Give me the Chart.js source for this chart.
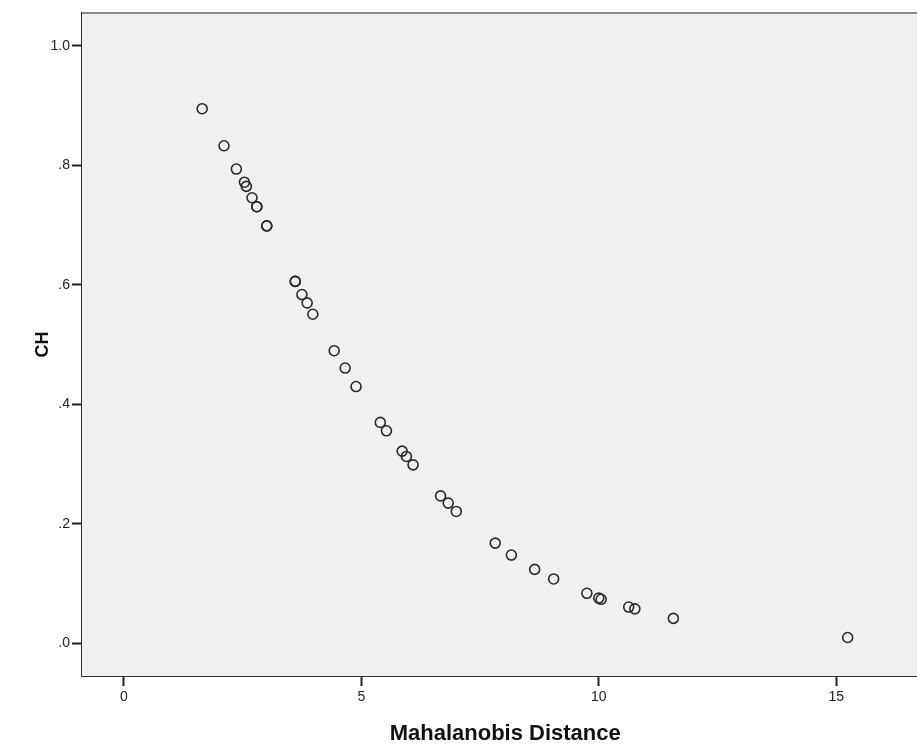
<!DOCTYPE html>
<html>
<head>
<meta charset="utf-8">
<script src="https://cdn.jsdelivr.net/npm/chart.js@4/dist/chart.umd.min.js"></script>
<style>
  html, body { margin: 0; padding: 0; background: #fff; overflow: hidden; }
  #wrap { width: 935px; height: 747px; }
</style>
</head>
<body>
<div id="wrap"><canvas id="canvas" width="935" height="747"></canvas></div>
<script>
// Mahalanobis distance vs CH
var distance = [1.65, 2.11, 2.37, 2.54, 2.58, 2.70, 2.80, 2.80, 3.01, 3.01, 3.61, 3.61, 3.75, 3.86, 3.98,
                4.43, 4.66, 4.89, 5.40, 5.53, 5.86, 5.95, 6.09, 6.67, 6.83, 7.00, 7.82, 8.16, 8.65,
                9.05, 9.75, 10.00, 10.05, 10.63, 10.76, 11.57, 15.24];
var ch = [0.895, 0.833, 0.794, 0.772, 0.765, 0.746, 0.731, 0.731, 0.699, 0.699, 0.606, 0.606, 0.584, 0.570, 0.551,
          0.490, 0.461, 0.430, 0.370, 0.356, 0.322, 0.313, 0.299, 0.247, 0.235, 0.221, 0.168, 0.148, 0.124,
          0.108, 0.084, 0.076, 0.074, 0.061, 0.058, 0.042, 0.010];

var xTicks = [0, 5, 10, 15];
var yTicks = [0, 0.2, 0.4, 0.6, 0.8, 1.0];
var yTickLabels = ['.0', '.2', '.4', '.6', '.8', '1.0'];

var points = [];
for (let i = 0; i < distance.length; i++) {
  points.push({x: distance[i], y: ch[i]});
}

// grey plot background and the thin top frame line
const plotBox = {
  id: 'plotBox',
  beforeDatasetsDraw(chart) {
    const a = chart.chartArea, c = chart.ctx;
    c.save();
    c.fillStyle = '#f0f0f0';
    c.fillRect(a.left, a.top, a.right - a.left, a.bottom - a.top);
    c.restore();
  },
  afterDraw(chart) {
    const a = chart.chartArea, c = chart.ctx;
    c.save();
    c.strokeStyle = '#888';
    c.lineWidth = 2;
    c.beginPath();
    c.moveTo(a.left, a.top);
    c.lineTo(a.right, a.top);
    c.stroke();
    c.restore();
  }
};

const ctx = document.getElementById('canvas');

new Chart(ctx, {
  type: 'scatter',
  data: {
    datasets: [{
      data: points,
      pointStyle: 'circle',
      pointRadius: 5,
      pointHoverRadius: 5,
      borderWidth: 1.6,
      borderColor: '#2a2a2a',
      backgroundColor: 'rgba(0,0,0,0)'
    }]
  },
  plugins: [plotBox],
  options: {
    responsive: false,
    animation: false,
    devicePixelRatio: 1,
    layout: { padding: { top: 13, right: 5, left: 0, bottom: 0 } },
    plugins: { legend: { display: false }, tooltip: { enabled: false } },
    scales: {
      x: {
        type: 'linear',
        min: -0.88,
        max: 16.94,
        afterFit(axis) { axis.height = 71; },
        afterBuildTicks(axis) { axis.ticks = xTicks.map(v => ({value: v})); },
        grid: { drawOnChartArea: false, drawTicks: true, tickLength: 10, tickWidth: 2, tickColor: '#222' },
        border: { display: true, color: '#333', width: 2 },
        ticks: {
          padding: 3,
          color: '#222',
          font: { family: 'Liberation Sans', size: 14 },
          callback: v => String(v)
        },
        title: {
          display: true,
          text: 'Mahalanobis Distance',
          color: '#111',
          font: { family: 'Liberation Sans', size: 22, weight: 'bold' },
          padding: { top: 12, bottom: 0 }
        }
      },
      y: {
        type: 'linear',
        min: -0.0544,
        max: 1.0552,
        afterFit(axis) { axis.width = 82; },
        afterBuildTicks(axis) { axis.ticks = yTicks.map(v => ({value: v})); },
        grid: { drawOnChartArea: false, drawTicks: true, tickLength: 10, tickWidth: 2, tickColor: '#222' },
        border: { display: true, color: '#333', width: 2 },
        ticks: {
          padding: 2,
          color: '#222',
          font: { family: 'Liberation Sans', size: 14 },
          callback: function(v) {
            const k = yTicks.findIndex(t => Math.abs(t - v) < 1e-6);
            return k >= 0 ? yTickLabels[k] : '';
          }
        },
        title: {
          display: true,
          text: 'CH',
          color: '#111',
          font: { family: 'Liberation Sans', size: 18, weight: 'bold' },
          padding: { top: 32, bottom: 0 }
        }
      }
    }
  }
});
</script>
</body>
</html>
